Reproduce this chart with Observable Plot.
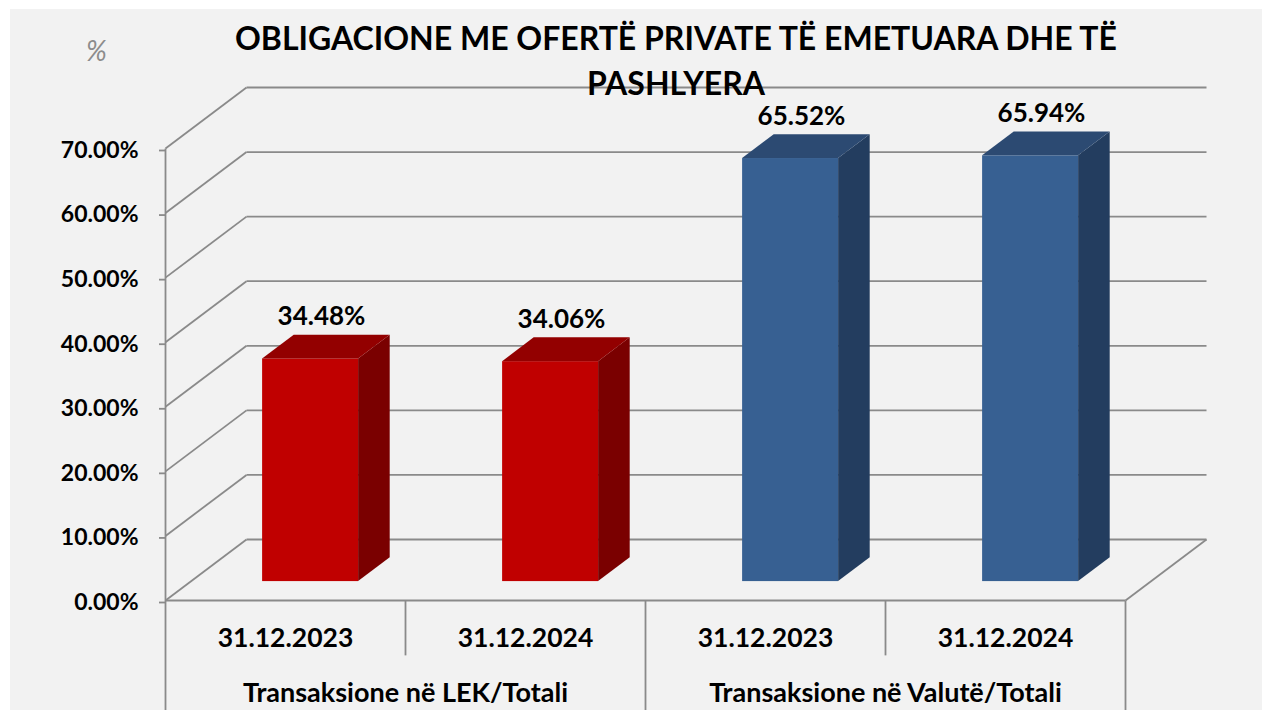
<!DOCTYPE html>
<html>
<head>
<meta charset="utf-8">
<script src="https://cdn.jsdelivr.net/npm/d3@7"></script>
<script src="https://cdn.jsdelivr.net/npm/@observablehq/plot@0.6"></script>
<style>
  html, body { margin: 0; padding: 0; background: #fff; }
  #wrap { position: relative; width: 1262px; height: 710px; overflow: hidden; font-family: Lato, "Open Sans", sans-serif; }
  #bg { position: absolute; left: 10px; top: 9px; right: 0; bottom: 0; background: #f2f2f2; }
  #chart { position: absolute; left: 0; top: 0; }
  #title { position: absolute; left: 176px; top: 15px; width: 1000px; text-align: center; font-weight: 700; font-size: 32px; line-height: 45px; white-space: nowrap; color: #000; }
  #unit { position: absolute; left: 86px; top: 33px; font-style: italic; font-size: 28px; color: #8c8c8c; }
</style>
</head>
<body>
<div id="wrap">
  <div id="bg"></div>
  <div id="chart"></div>
  <div id="title">OBLIGACIONE ME OFERTË PRIVATE TË EMETUARA DHE TË<br>PASHLYERA</div>
  <div id="unit">%</div>
</div>
<script>
// ---- data ----
const groups = ["Transaksione në LEK/Totali", "Transaksione në Valutë/Totali"];
const dates = ["31.12.2023", "31.12.2024", "31.12.2023", "31.12.2024"];
const barGroup = [0, 0, 1, 1];
const values = [34.48, 34.06, 65.52, 65.94];
const yTicks = [0, 10, 20, 30, 40, 50, 60, 70];

// ---- 3D oblique projection (in data units) ----
const DX = 81 / 240;          // depth shift along x (category units)
const DY = 61 / (452 / 70);   // depth shift along y (percent units)
const F0 = 0.31, F1 = 0.70;   // bar depth range
const HW = 0.2;               // bar half width (category units)
const SEP_SHORT = -8.5, SEP_LONG = -17.2;

const frontColor = ["#c00000", "#376092"];
const topColor   = ["#930000", "#2c4a72"];
const sideColor  = ["#7a0000", "#233d5f"];

const bars = values.map((v, i) => ({i, v, c: i + 0.5, g: barGroup[i], date: dates[i]}));

// side faces (parallelogram with vertical edges)
const sideFaces = bars.flatMap(b => [F0, F1].map(f => ({
  bar: b.i, g: b.g, x: b.c + HW + DX * f, y1: DY * f, y2: b.v + DY * f
})));
// top faces (parallelogram with horizontal edges)
const topFaces = bars.flatMap(b => [F0, F1].map(f => ({
  bar: b.i, g: b.g, y: b.v + DY * f, x1: b.c - HW + DX * f, x2: b.c + HW + DX * f
})));

const grid = "#8a8a8a";
const nCat = dates.length;

const chart = Plot.plot({
  width: 1262,
  height: 710,
  marginLeft: 165,
  marginRight: 137,
  marginTop: 148,
  marginBottom: 110,
  style: {background: "transparent", fontFamily: "Lato, 'Open Sans', sans-serif", overflow: "visible"},
  x: {domain: [0, nCat], axis: null},
  y: {domain: [0, 70], axis: null},
  color: {type: "identity"},
  marks: [
    // back wall gridlines
    Plot.link(yTicks, {x1: DX, x2: nCat + DX, y1: d => d + DY, y2: d => d + DY, stroke: grid, strokeWidth: 1.8}),
    // left wall diagonals
    Plot.link(yTicks, {x1: 0, y1: d => d, x2: DX, y2: d => d + DY, stroke: grid, strokeWidth: 1.8}),
    // floor: front edge and right diagonal
    Plot.link([0], {x1: 0, x2: nCat, y1: 0, y2: 0, stroke: grid, strokeWidth: 1.8}),
    Plot.link([0], {x1: nCat, y1: 0, x2: nCat + DX, y2: DY, stroke: grid, strokeWidth: 1.8}),
    // front vertical axis line
    Plot.link([0], {x1: 0, x2: 0, y1: SEP_LONG, y2: 70, stroke: grid, strokeWidth: 1.8}),
    // category separators
    Plot.link(d3.range(1, nCat + 1), {
      x1: d => d, x2: d => d, y1: 0,
      y2: d => (d % 2 === 0 ? SEP_LONG : SEP_SHORT),
      stroke: grid, strokeWidth: 1.8
    }),
    // y axis ticks + labels
    Plot.axisY({
      ticks: yTicks, tickSize: 6, tickPadding: 21,
      tickFormat: d => d.toFixed(2) + "%",
      stroke: grid, strokeWidth: 1.8, fill: "#000",
      fontSize: 23, fontWeight: "bold", dy: 2, label: null
    }),
    // bars: front faces
    Plot.rect(bars, {
      x1: d => d.c - HW + DX * F0, x2: d => d.c + HW + DX * F0,
      y1: DY * F0, y2: d => d.v + DY * F0,
      fill: d => frontColor[d.g]
    }),
    // side faces
    Plot.areaY(sideFaces, {x: "x", y1: "y1", y2: "y2", z: "bar", fill: d => sideColor[d.g]}),
    // top faces
    Plot.areaX(topFaces, {y: "y", x1: "x1", x2: "x2", z: "bar", fill: d => topColor[d.g]}),
    // value labels
    Plot.text(bars, {
      x: d => d.c + 0.15, y: d => d.v + DY * F1,
      text: d => d.v.toFixed(2) + "%",
      lineAnchor: "bottom", dy: -10,
      fontSize: 26, fontWeight: "bold", fill: "#000"
    }),
    // category labels
    Plot.text(bars, {
      x: "c", y: 0, text: "date", lineAnchor: "middle", dy: 38,
      fontSize: 26.5, fontWeight: "bold", fill: "#000"
    }),
    // group labels
    Plot.text(groups, {
      x: (d, i) => 2 * i + 1, y: 0, text: d => d, lineAnchor: "middle", dy: 93,
      fontSize: 27, fontWeight: "bold", fill: "#000"
    })
  ]
});

document.getElementById("chart").appendChild(chart);
</script>
</body>
</html>
